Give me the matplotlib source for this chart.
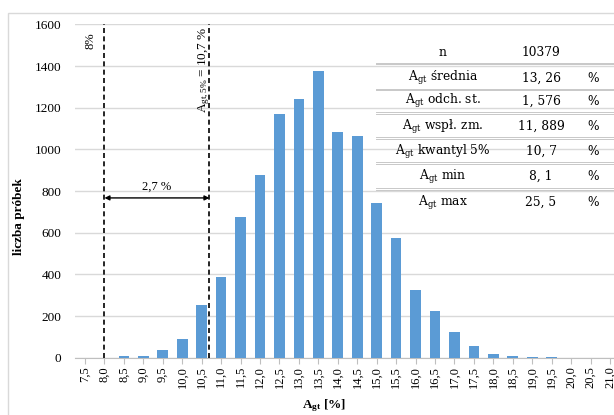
import matplotlib
matplotlib.use('Agg')
import matplotlib.pyplot as plt
from matplotlib.patches import Rectangle
from matplotlib.lines import Line2D

# Dane: rozkład A_gt
categories = [7.5, 8.0, 8.5, 9.0, 9.5, 10.0, 10.5, 11.0, 11.5, 12.0, 12.5, 13.0, 13.5, 14.0,
              14.5, 15.0, 15.5, 16.0, 16.5, 17.0, 17.5, 18.0, 18.5, 19.0, 19.5, 20.0, 20.5, 21.0]
counts = [0, 0, 10, 10, 37, 90, 253, 385, 675, 875, 1170, 1240, 1376, 1083,
          1063, 743, 573, 325, 224, 122, 58, 18, 7, 5, 1, 0, 0, 0]
tick_labels = [f"{c:.1f}".replace('.', ',') for c in categories]

min_line = 8.0        # linia 8%
quantile_5 = 10.7     # kwantyl 5%
gap_label = "2,7 %"

stat_names = ["n", r"$\mathrm{A_{gt}}$ średnia", r"$\mathrm{A_{gt}}$ odch. st.",
              r"$\mathrm{A_{gt}}$ wspł. zm.", r"$\mathrm{A_{gt}}$ kwantyl 5%",
              r"$\mathrm{A_{gt}}$ min", r"$\mathrm{A_{gt}}$ max"]
stat_values = ["10379", "13, 26", "1, 576", "11, 889", "10, 7", "8, 1", "25, 5"]
stat_units = ["", "%", "%", "%", "%", "%", "%"]

plt.rcParams['mathtext.fontset'] = 'custom'
plt.rcParams['mathtext.rm'] = 'Liberation Serif'
plt.rcParams['mathtext.it'] = 'Liberation Serif:italic'
plt.rcParams['mathtext.bf'] = 'Liberation Serif:bold'

W, H = 614, 415
fig = plt.figure(figsize=(W / 100, H / 100), dpi=100)


def px(x, y):
    return x / W, 1 - y / H


# ramka wykresu (przycięta)
fig.patches.append(Rectangle(px(8, 430), (620 - 8) / W, (430 - 13) / H,
                             transform=fig.transFigure, fill=False,
                             edgecolor='#d9d9d9', lw=1.0))

ax = fig.add_axes([75.3 / W, 57.3 / H, 544.4 / W, 333.3 / H])

idx = list(range(len(categories)))
ax.bar(idx, counts, width=0.55, color='#5b9bd5', zorder=3)

ax.set_xlim(-0.5, len(categories) - 0.5)
ax.set_ylim(0, 1600)
ax.set_yticks(range(0, 1601, 200))
ax.set_xticks(idx)
ax.set_xticklabels(tick_labels, rotation=90, family='Liberation Serif', fontsize=9)
for lab in ax.get_yticklabels():
    lab.set_family('Liberation Serif')
    lab.set_fontsize(9.5)
ax.tick_params(axis='y', length=0, pad=10)
ax.tick_params(axis='x', length=4, color='#bfbfbf', pad=2)
ax.grid(axis='y', color='#d9d9d9', lw=1.0, zorder=0)
for s in ['top', 'right', 'left']:
    ax.spines[s].set_visible(False)
ax.spines['bottom'].set_color('#bfbfbf')

ax.set_ylabel('liczba próbek', family='Liberation Serif', fontweight='bold',
              fontsize=9.5)
ax.yaxis.set_label_coords(-0.093, 0.422)
ax.set_xlabel(r'$\mathbf{A_{gt}}$ [%]', family='Liberation Serif',
              fontweight='bold', fontsize=9.5)
ax.xaxis.set_label_coords(0.457, -0.118)

# linie przerywane
x_min = categories.index(min_line)
x_q = (quantile_5 - categories[0]) / (categories[1] - categories[0])
for xv in (x_min, x_q):
    ax.axvline(xv, color='black', lw=1.2, ls=(0, (3, 2)), zorder=4)

ax.text(x_min - 0.7, 1520, '8%', rotation=90, ha='center', va='center',
        family='Liberation Serif', fontsize=9)
ax.text(x_q - 0.28, 1380, r'$\mathrm{A_{gt,5\%}}$ = 10,7 %', rotation=90,
        ha='center', va='center', family='Liberation Serif', fontsize=9.5)

ax.annotate('', xy=(x_min, 767), xytext=(x_q, 767),
            arrowprops=dict(arrowstyle='<|-|>', color='black', lw=1.0,
                            mutation_scale=7, shrinkA=0, shrinkB=0), zorder=5)
ax.text((x_min + x_q) / 2, 790, gap_label, ha='center', va='bottom',
        family='Liberation Serif', fontsize=9)

# tabela statystyk
row_y = [52.7, 78.3, 101.5, 126.7, 151.7, 176.7, 202.7]
line_y = [63.5, 89.5, 113, 138, 163, 189]
for i, (name, val, unit) in enumerate(zip(stat_names, stat_values, stat_units)):
    y = row_y[i]
    fig.text(*px(443, y), name, ha='center', va='center', family='DejaVu Serif',
             fontsize=8.8, math_fontfamily='dejavuserif')
    fig.text(*px(541, y), val, ha='center', va='center', family='DejaVu Serif',
             fontsize=8.8)
    if unit:
        fig.text(*px(593, y), unit, ha='center', va='center', family='DejaVu Serif',
                 fontsize=8.8)
for ly in line_y:
    for d in (-0.8, 0.8):
        x0, y0 = px(376, ly + d)
        x1, _ = px(614, ly + d)
        fig.add_artist(Line2D([x0, x1], [y0, y0], transform=fig.transFigure,
                              color='#c8c8c8', lw=0.7))

fig.savefig('out.png', dpi=100)
